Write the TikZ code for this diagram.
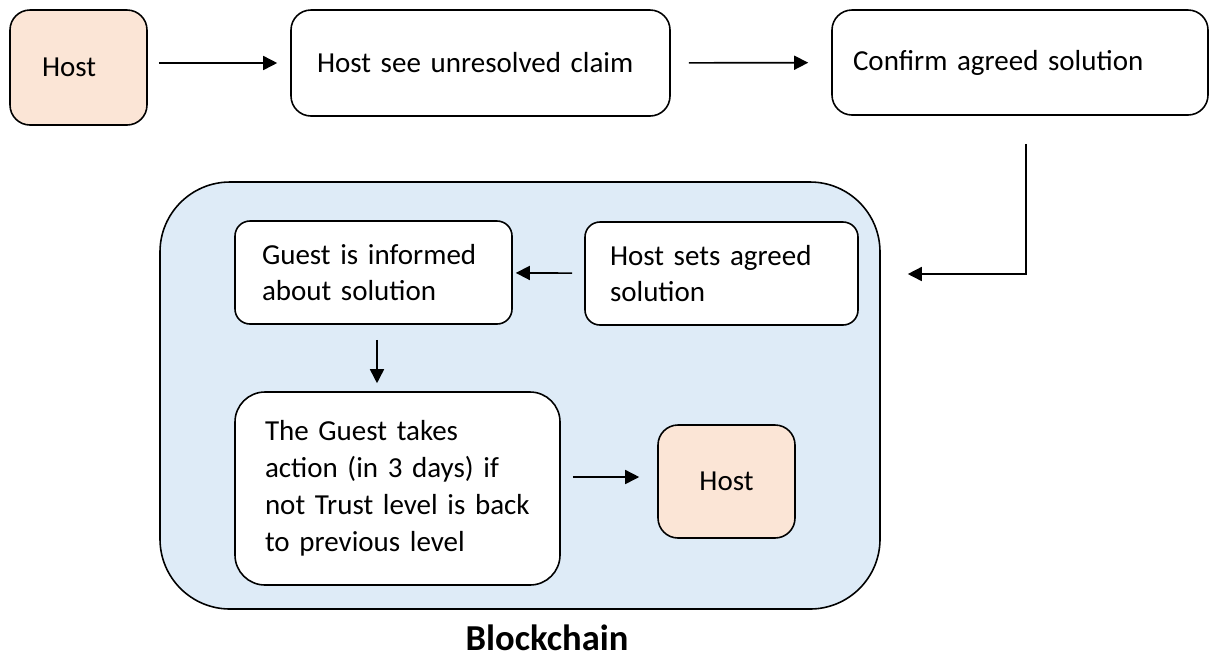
\documentclass[tikz,border=0pt]{standalone}
\usepackage{fontspec}
\setmainfont[WordSpace=0.75]{Carlito}
\usepackage{tikz}
\usetikzlibrary{arrows.meta}
\definecolor{hostpeach}{RGB}{251,229,214}
\definecolor{chainblue}{RGB}{222,235,247}

\begin{document}
\begin{tikzpicture}[line width=0.9pt, >={Triangle[length=0.28cm,width=0.28cm]},
  stepbox/.style={rectangle, draw, fill=white, rounded corners=0.4cm, align=left, inner xsep=0.52cm, font=\fontsize{16.5}{21}\selectfont},
  hostbox/.style={stepbox, fill=hostpeach}]
\useasboundingbox (0,0) rectangle (24.2,-13.18);

% Top row
\node[hostbox, minimum width=2.74cm, minimum height=2.3cm, text width=1.46cm, inner xsep=0.64cm] (host1) at (1.57,-1.35) {Host};
\node[stepbox, minimum width=7.58cm, minimum height=2.12cm, text width=6.54cm] (see) at (9.61,-1.26) {Host see unresolved claim};
\node[stepbox, minimum width=7.52cm, minimum height=2.1cm, text width=6.68cm, inner xsep=0.42cm] (confirm) at (20.4,-1.25) {Confirm agreed solution};

% Blockchain area
\node[rectangle, draw, fill=chainblue, rounded corners=1.4cm, minimum width=14.4cm, minimum height=8.54cm] (chain) at (10.4,-7.91) {};
\node[anchor=base, font=\fontsize{20.8}{25}\selectfont\bfseries] (chainlabel) at (10.94,-13.0) {Blockchain};

\node[stepbox, rounded corners=0.3cm, minimum width=5.54cm, minimum height=2.06cm, text width=4.46cm, inner xsep=0.54cm] (informed) at (7.47,-5.45) {Guest is informed\\about solution};
\node[stepbox, rounded corners=0.3cm, minimum width=5.46cm, minimum height=2.06cm, text width=4.46cm, inner xsep=0.5cm] (sets) at (14.43,-5.47) {Host sets agreed\\solution};
\node[stepbox, rounded corners=0.6cm, minimum width=6.5cm, minimum height=3.86cm, text width=5.3cm, inner xsep=0.6cm] (takes) at (7.95,-9.77) {The Guest takes\\action (in 3 days) if\\not Trust level is back\\to previous level};
\node[hostbox, align=center, minimum width=2.74cm, minimum height=2.26cm] (host2) at (14.53,-9.63) {Host};

% Arrows
\coordinate (turn) at (20.52,-5.48);
\draw[->, shorten <=0.22cm, shorten >=0.26cm] (host1.east |- see.west) -- (see.west);
\draw[->, shorten <=0.36cm, shorten >=0.46cm] (see) -- (confirm);
\draw[->, shorten <=0.56cm, shorten >=0.54cm] (confirm.south -| turn) -- (turn) -- (chain.east |- turn);
\draw[->, shorten <=0.24cm, shorten >=0.06cm] (sets) -- (informed);
\draw[->, shorten <=0.3cm, shorten >=0.16cm] ([xshift=0.07cm]informed.south) -- ([xshift=0.07cm]informed.south |- takes.north);
\draw[->, shorten <=0.24cm, shorten >=0.36cm] ([yshift=0.09cm]takes.east |- host2.west) -- ([yshift=0.09cm]host2.west);
\end{tikzpicture}
\end{document}
